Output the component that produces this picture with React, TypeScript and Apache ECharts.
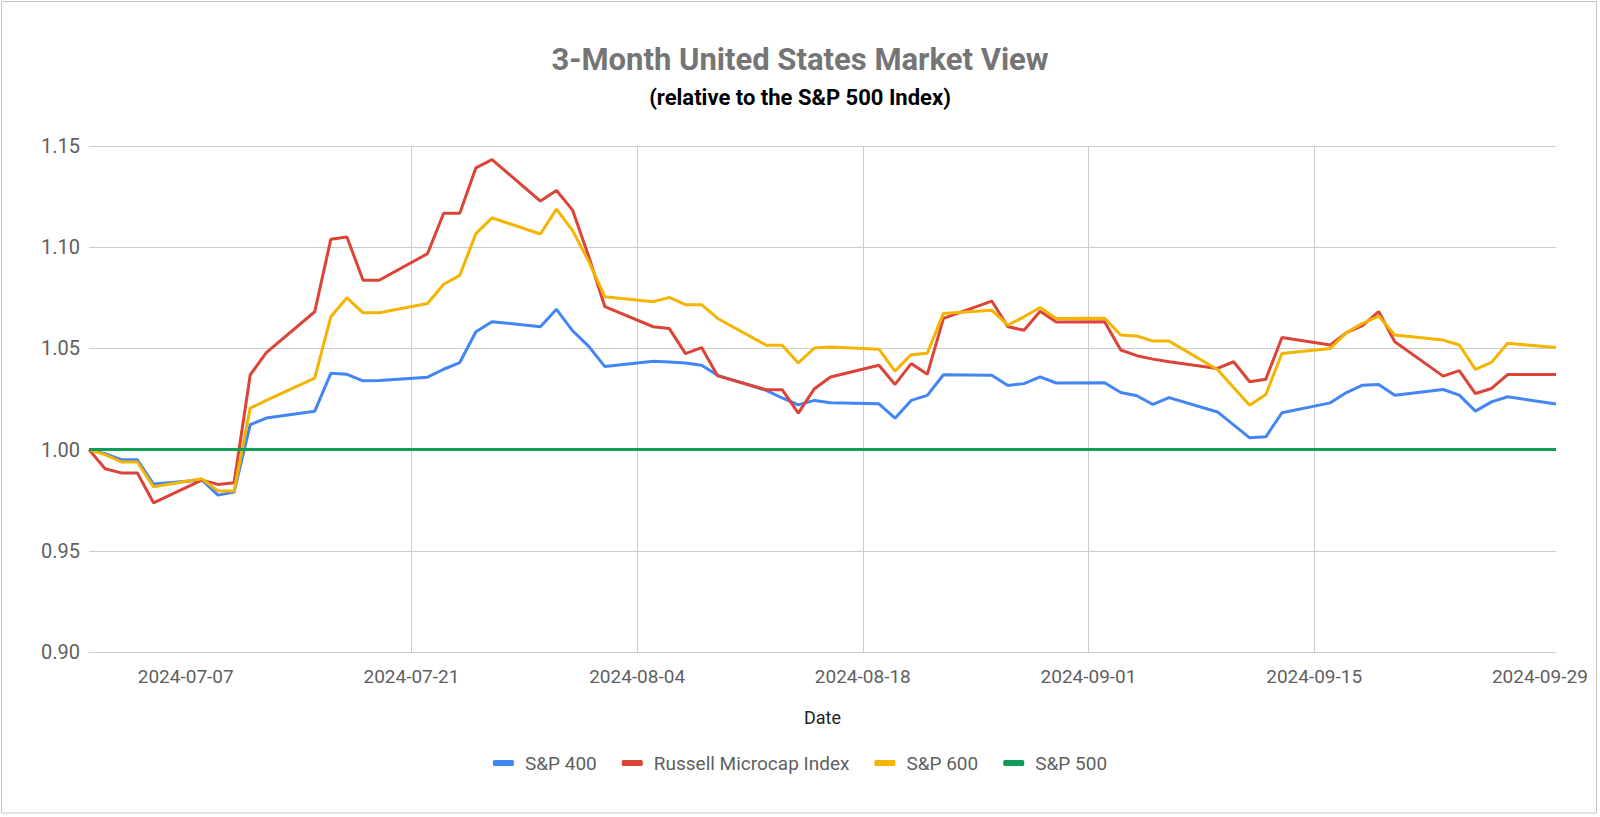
import React, { useEffect, useRef } from "react";
import * as echarts from "echarts";

const DATES = [
  "2024-07-01", "2024-07-02", "2024-07-03", "2024-07-04", "2024-07-05",
  "2024-07-08", "2024-07-09", "2024-07-10", "2024-07-11", "2024-07-12",
  "2024-07-15", "2024-07-16", "2024-07-17", "2024-07-18", "2024-07-19",
  "2024-07-22", "2024-07-23", "2024-07-24", "2024-07-25", "2024-07-26",
  "2024-07-29", "2024-07-30", "2024-07-31", "2024-08-01", "2024-08-02",
  "2024-08-05", "2024-08-06", "2024-08-07", "2024-08-08", "2024-08-09",
  "2024-08-12", "2024-08-13", "2024-08-14", "2024-08-15", "2024-08-16",
  "2024-08-19", "2024-08-20", "2024-08-21", "2024-08-22", "2024-08-23",
  "2024-08-26", "2024-08-27", "2024-08-28", "2024-08-29", "2024-08-30",
  "2024-09-02", "2024-09-03", "2024-09-04", "2024-09-05", "2024-09-06",
  "2024-09-09", "2024-09-10", "2024-09-11", "2024-09-12", "2024-09-13",
  "2024-09-16", "2024-09-17", "2024-09-18", "2024-09-19", "2024-09-20",
  "2024-09-23", "2024-09-24", "2024-09-25", "2024-09-26", "2024-09-27",
  "2024-09-30",
];

const SP400 = [
  1.0, 0.998, 0.995, 0.995, 0.983,
  0.985, 0.9775, 0.979, 1.0123, 1.0156,
  1.0189, 1.0377, 1.0372, 1.034, 1.0341,
  1.0358, 1.0397, 1.043, 1.0582, 1.0632,
  1.0607, 1.0693, 1.0587, 1.051, 1.041,
  1.0436, 1.0433, 1.0428, 1.0417, 1.0367,
  1.0293, 1.0255, 1.0221, 1.0243, 1.0231,
  1.0226, 1.0155, 1.0243, 1.0268, 1.037,
  1.0367, 1.0317, 1.0326, 1.0359, 1.0329,
  1.033, 1.0282, 1.0266, 1.0223, 1.0257,
  1.0186, 1.0122, 1.0058, 1.0063, 1.0182,
  1.0231, 1.0282, 1.0318, 1.0322, 1.0269,
  1.0297, 1.0269, 1.019, 1.0236, 1.0261,
  1.0225,
];

const RUSSELL = [
  1.0, 0.9905, 0.9885, 0.9885, 0.9737,
  0.9849, 0.9828, 0.9836, 1.0369, 1.0479,
  1.0681, 1.1039, 1.105, 1.0837, 1.0837,
  1.0968, 1.1168, 1.1168, 1.1392, 1.1433,
  1.1228, 1.128, 1.1183, 1.0954, 1.0706,
  1.0607, 1.0598, 1.0474, 1.0504, 1.0364,
  1.0296, 1.0296, 1.018, 1.0301, 1.0359,
  1.0417, 1.0322, 1.0425, 1.0372, 1.0648,
  1.0734, 1.0607, 1.059, 1.0684, 1.063,
  1.0632, 1.0492, 1.0464, 1.0447, 1.0434,
  1.0401, 1.0434, 1.0335, 1.0348, 1.0554,
  1.0517, 1.0578, 1.0612, 1.0682, 1.0533,
  1.0363, 1.039, 1.0277, 1.0302, 1.0371,
  1.0371,
];

const SP600 = [
  1.0, 0.9975, 0.9939, 0.9939, 0.9816,
  0.9856, 0.9795, 0.9795, 1.0205, 1.0243,
  1.0353, 1.0656, 1.075, 1.0676, 1.0676,
  1.0722, 1.0817, 1.0861, 1.1067, 1.1145,
  1.1065, 1.1188, 1.1082, 1.093, 1.0755,
  1.0731, 1.0752, 1.0716, 1.0716, 1.0648,
  1.0516, 1.0516, 1.0428, 1.0502, 1.0507,
  1.0496, 1.0388, 1.0469, 1.0476, 1.0673,
  1.0689, 1.0615, 1.0656, 1.0702, 1.0648,
  1.0649, 1.0566, 1.0561, 1.0536, 1.0536,
  1.0396, 1.0307, 1.0219, 1.0272, 1.0475,
  1.05, 1.0578, 1.0624, 1.066, 1.0566,
  1.0541, 1.0517, 1.0396, 1.0431, 1.0525,
  1.0505,
];

const SP500 = [
  1, 1, 1, 1, 1,
  1, 1, 1, 1, 1,
  1, 1, 1, 1, 1,
  1, 1, 1, 1, 1,
  1, 1, 1, 1, 1,
  1, 1, 1, 1, 1,
  1, 1, 1, 1, 1,
  1, 1, 1, 1, 1,
  1, 1, 1, 1, 1,
  1, 1, 1, 1, 1,
  1, 1, 1, 1, 1,
  1, 1, 1, 1, 1,
  1, 1, 1, 1, 1,
  1,
];

const SERIES_NAMES = ["S&P 400", "Russell Microcap Index", "S&P 600", "S&P 500"];
const SERIES_COLORS = ["#4285F4", "#DB4437", "#F4B400", "#0F9D58"];
const X_START = "2024-07-01";
const X_END = "2024-09-30";
const X_TICK_DATES = ["2024-07-07", "2024-07-21", "2024-08-04", "2024-08-18", "2024-09-01", "2024-09-15", "2024-09-29"];
const Y_MIN = 0.9;
const Y_MAX = 1.15;
const Y_STEP = 0.05;

const DAY = 86400000;
const toUTC = (s: string) => {
  const [y, m, d] = s.split("-").map(Number);
  return Date.UTC(y, m - 1, d);
};
const BASE = toUTC(X_START);
const dayIndex = (s: string) => Math.round((toUTC(s) - BASE) / DAY);
const dayLabel = (v: number) => {
  const dt = new Date(BASE + Math.round(v) * DAY);
  const p = (n: number) => String(n).padStart(2, "0");
  return `${dt.getUTCFullYear()}-${p(dt.getUTCMonth() + 1)}-${p(dt.getUTCDate())}`;
};

const FONT = "Roboto";

export default function App() {
  const ref = useRef<HTMLDivElement>(null);

  useEffect(() => {
    if (!ref.current) return;
    const chart = echarts.init(ref.current, undefined, { renderer: "svg" });
    const values = [SP400, RUSSELL, SP600, SP500];
    const tickDays = X_TICK_DATES.map(dayIndex);

    chart.setOption({
      animation: false,
      backgroundColor: "#ffffff",
      textStyle: { fontFamily: FONT },
      title: {
        text: "3-Month United States Market View",
        subtext: "(relative to the S&P 500 Index)",
        left: "center",
        top: 36,
        itemGap: 7,
        textStyle: { fontFamily: FONT, fontSize: 31, fontWeight: "bold", color: "#757575", lineHeight: 36 },
        subtextStyle: { fontFamily: FONT, fontSize: 22, fontWeight: "bold", color: "#000000", lineHeight: 26 },
      },
      legend: {
        data: SERIES_NAMES,
        left: "center",
        top: 747,
        icon: "roundRect",
        itemWidth: 21,
        itemHeight: 6,
        itemGap: 25,
        textStyle: { fontFamily: FONT, fontSize: 19, color: "#5f5f5f", padding: [0, 0, 0, 6], lineHeight: 22 },
      },
      grid: { left: 89, right: 44, top: 146, bottom: 165, containLabel: false },
      xAxis: {
        type: "value",
        min: dayIndex(X_START),
        max: dayIndex(X_END),
        name: "Date",
        nameLocation: "middle",
        nameGap: 56,
        nameTextStyle: { fontFamily: FONT, fontSize: 18, color: "#222222" },
        axisLine: { show: true, lineStyle: { color: "#cccccc", width: 1 } },
        axisTick: { show: false, customValues: tickDays },
        axisLabel: {
          customValues: tickDays,
          formatter: (v: number) => dayLabel(v),
          fontFamily: FONT,
          fontSize: 19,
          color: "#5f5f5f",
          margin: 15,
        },
        splitLine: { show: true, showMinLine: false, showMaxLine: false, lineStyle: { color: "#cccccc", width: 1 } },
      },
      yAxis: {
        type: "value",
        min: Y_MIN,
        max: Y_MAX,
        interval: Y_STEP,
        axisLine: { show: false },
        axisTick: { show: false },
        axisLabel: {
          formatter: (v: number) => v.toFixed(2),
          fontFamily: FONT,
          fontSize: 20,
          color: "#5f5f5f",
          margin: 9,
        },
        splitLine: { show: true, lineStyle: { color: "#cccccc", width: 1 } },
      },
      graphic: [
        {
          type: "rect",
          shape: { x: 1.5, y: 1.5, width: 1595, height: 811.5 },
          style: { fill: "none", stroke: "#c4c4c4", lineWidth: 1 },
          silent: true,
          z: 100,
        },
      ],
      series: SERIES_NAMES.map((name, i) => ({
        name,
        type: "line",
        data: DATES.map((d, j) => [dayIndex(d), values[i][j]]),
        showSymbol: false,
        symbol: "none",
        smooth: false,
        lineStyle: { color: SERIES_COLORS[i], width: 3 },
        itemStyle: { color: SERIES_COLORS[i] },
        emphasis: { disabled: true },
      })),
    });

    return () => chart.dispose();
  }, []);

  return (
    <div
      ref={ref}
      style={{ position: "fixed", left: 0, top: 0, width: 1600, height: 817, background: "#fff" }}
    />
  );
}
